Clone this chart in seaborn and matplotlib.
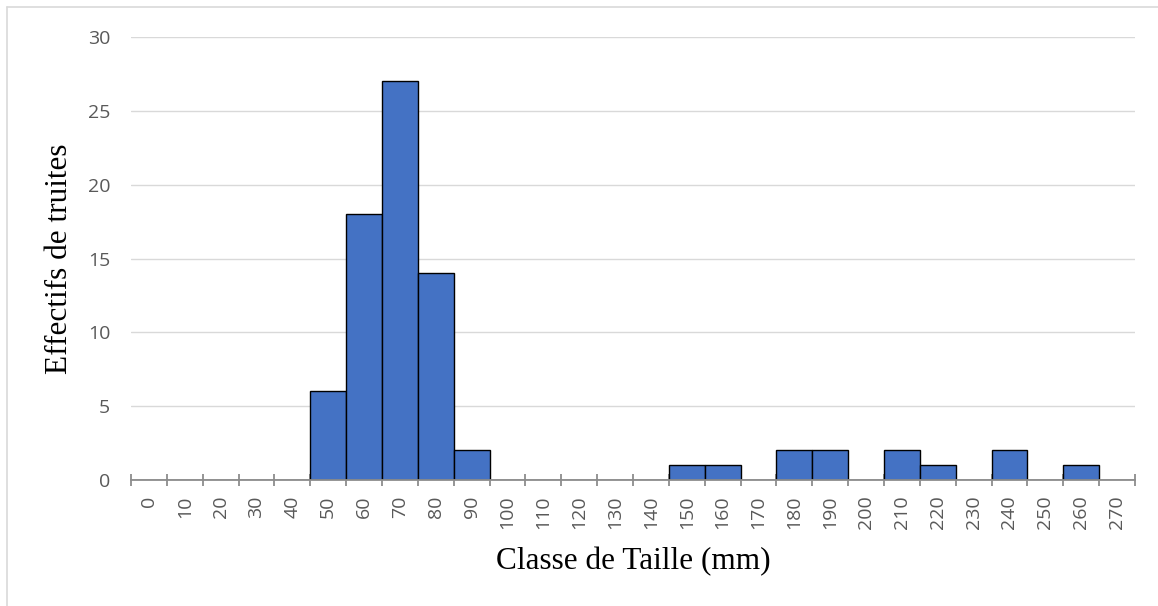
import matplotlib
matplotlib.use("Agg")
import matplotlib.pyplot as plt
import seaborn as sns
import pandas as pd
import numpy as np
from matplotlib.lines import Line2D

classes = [str(v) for v in range(0, 280, 10)]
counts = [0, 0, 0, 0, 0, 6, 18, 27, 14, 2, 0, 0, 0, 0, 0, 1, 1, 0, 2, 2, 0, 2, 1, 0, 2, 0, 1, 0]
y_ticks = [0, 5, 10, 15, 20, 25, 30]

df = pd.DataFrame({"classe": classes, "effectif": counts})

sns.set_theme(style="white")
fig = plt.figure(figsize=(11.58, 6.06), dpi=100)
ax = fig.add_axes([131/1158, 1-480/606, (1135-131)/1158, (480-37)/606])

sns.barplot(data=df, x="classe", y="effectif", order=classes, color="#4472C4",
            width=1.0, edgecolor="black", linewidth=1.0, saturation=1, ax=ax, zorder=3)

ax.set_xlim(-0.5, len(classes) - 0.5)
ax.set_ylim(0, 30)
ax.set_yticks(y_ticks)
ax.yaxis.grid(True, color="#d9d9d9", linewidth=1.0, zorder=0)
ax.set_axisbelow(True)

for s in ["top", "right", "left"]:
    ax.spines[s].set_visible(False)
ax.spines["bottom"].set_color("#8c8c8c")
ax.spines["bottom"].set_linewidth(1.3)
ax.spines["bottom"].set_zorder(4)

ax.set_xticks(np.arange(len(classes)))
ax.set_xticklabels(classes, rotation=90, fontsize=14, color="#595959", family="Open Sans")
ax.tick_params(axis="x", which="major", length=0, pad=11)
ax.set_xticks(np.arange(len(classes) + 1) - 0.5, minor=True)
ax.tick_params(axis="x", which="minor", direction="inout", length=9, width=1.3, color="#8c8c8c", bottom=True)
ax.tick_params(axis="y", length=0, pad=15)
for lab in ax.get_yticklabels():
    lab.set_fontsize(14)
    lab.set_color("#595959")
    lab.set_family("Open Sans")

ax.set_xlabel("Classe de Taille (mm)", fontsize=22.5, family="Liberation Serif", color="black", labelpad=13)
ax.set_ylabel("Effectifs de truites", fontsize=22.5, family="Liberation Serif", color="black", labelpad=10)

fig.add_artist(Line2D([7/1158, 1.0], [1 - 7/606, 1 - 7/606], transform=fig.transFigure,
                      color="#d9d9d9", linewidth=1.2))
fig.add_artist(Line2D([7/1158, 7/1158], [0.0, 1 - 7/606], transform=fig.transFigure,
                      color="#d9d9d9", linewidth=1.2))

fig.savefig("out.png", dpi=100)
